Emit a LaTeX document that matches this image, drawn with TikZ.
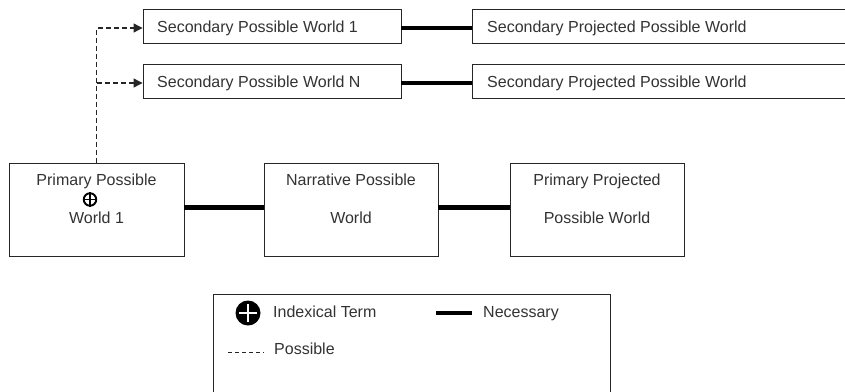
\documentclass[tikz,border=0pt]{standalone}
\usepackage{fontspec}
\setmainfont{Liberation Sans}
\usetikzlibrary{arrows.meta}
\begin{document}
\begin{tikzpicture}[x=1pt,y=-1pt,
  world/.style={draw=black!85,line width=0.9pt,fill=white,inner sep=0pt},
  txt/.style={font=\fontsize{16}{19}\selectfont,text=black!80,inner sep=0pt},
  necessary/.style={line width=5pt,black},
  necessarythin/.style={line width=3.5pt,black},
  possible/.style={line width=1.2pt,dash pattern=on 5pt off 3pt,black!85},
  tip/.style={-{Triangle[length=9pt,width=9pt]}}
]
\clip (0,0) rectangle (845,391);
\fill[white] (0,0) rectangle (845,391);

% secondary worlds
\node[world,minimum width=258pt,minimum height=34pt] (s1) at (272,26.5) {};
\node[world,minimum width=258pt,minimum height=34pt] (sn) at (272,81.5) {};
\node[world,minimum width=380pt,minimum height=34pt] (sp1) at (662,26.5) {};
\node[world,minimum width=380pt,minimum height=34pt] (spn) at (662,81.5) {};
\node[txt,anchor=base west] (s1t) at (157,32) {Secondary Possible World 1};
\node[txt,anchor=base west] (snt) at (157,87) {Secondary Possible World N};
\node[txt,anchor=base west] (sp1t) at (487,32) {Secondary Projected Possible World};
\node[txt,anchor=base west] (spnt) at (487,87) {Secondary Projected Possible World};

% primary row
\node[world,minimum width=175pt,minimum height=93pt] (p) at (96.5,209.5) {};
\node[world,minimum width=174pt,minimum height=93pt] (n) at (351,209.5) {};
\node[world,minimum width=174pt,minimum height=93pt] (pp) at (597,209.5) {};
\node[txt,anchor=base] (pt1) at (96.5,185) {Primary Possible};
\node[txt,anchor=base] (pt2) at (96.5,223) {World 1};
\node[txt,anchor=base] (nt1) at (351,185) {Narrative Possible};
\node[txt,anchor=base] (nt2) at (351,223) {World};
\node[txt,anchor=base] (ppt1) at (597,185) {Primary Projected};
\node[txt,anchor=base] (ppt2) at (597,223) {Possible World};

% indexical mark in the primary world
\node[circle,draw=black,line width=1.9pt,minimum size=12.5pt,inner sep=0pt] (idx) at (90,199.5) {};
\draw[line width=1.8pt] (idx.north) -- (idx.south) (idx.west) -- (idx.east);

% necessary links
\draw[necessary] ([yshift=2pt]p.east) -- ([yshift=2pt]n.west);
\draw[necessary] ([yshift=2pt]n.east) -- ([yshift=2pt]pp.west);
\draw[necessarythin] ([yshift=-1.5pt]s1.east) -- ([yshift=-1.5pt]sp1.west);
\draw[necessarythin] ([yshift=-1.5pt]sn.east) -- ([yshift=-1.5pt]spn.west);

% possible links
\draw[possible,tip] (p.north) |- ([yshift=-1.5pt]s1.west);
\draw[possible,tip] (p.north) |- ([yshift=-1.5pt]sn.west);

% legend
\node[world,minimum width=397pt,minimum height=120pt,anchor=north west] (legend) at (213,294) {};
\node[circle,fill=black,minimum size=25pt,inner sep=0pt] (lidx) at (248,313) {};
\draw[white,line width=2.6pt] ([yshift=-4pt]lidx.north) -- ([yshift=4pt]lidx.south)
  ([xshift=4pt]lidx.west) -- ([xshift=-4pt]lidx.east);
\node[txt,anchor=base west] (lidxt) at (273,317) {Indexical Term};
\coordinate (nec1) at (436,313);
\coordinate (nec2) at (472,313);
\draw[line width=4.3pt] (nec1) -- (nec2);
\node[txt,anchor=base west] (lnect) at (483,317) {Necessary};
\coordinate (pos1) at (228,352);
\coordinate (pos2) at (264,352);
\draw[line width=0.9pt,dash pattern=on 4pt off 3pt,black!85] (pos1) -- (pos2);
\node[txt,anchor=base west] (lpost) at (274,354) {Possible};
\end{tikzpicture}
\end{document}
